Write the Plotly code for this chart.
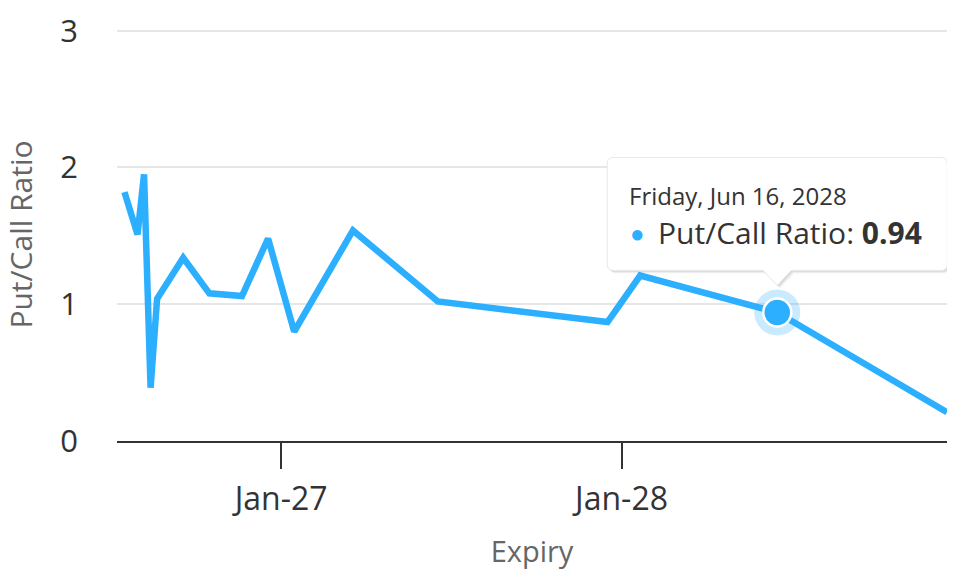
import plotly.graph_objects as go

# Expiry dates and put/call ratios
expiry = ['2026-07-17', '2026-07-31', '2026-08-07', '2026-08-14', '2026-08-21',
          '2026-09-18', '2026-10-16', '2026-11-20', '2026-12-18', '2027-01-15',
          '2027-03-19', '2027-06-18', '2027-12-17', '2028-01-21', '2028-06-16',
          '2028-12-15']
put_call = [1.82, 1.51, 1.95, 0.39, 1.04, 1.34, 1.08, 1.06, 1.48, 0.80,
            1.54, 1.02, 0.87, 1.21, 0.94, 0.21]

hover_idx = 14
hover_date = 'Friday, Jun 16, 2028'

line_color = '#2caffe'
font = 'Open Sans'

fig = go.Figure()

fig.add_trace(go.Scatter(
    x=expiry, y=put_call,
    mode='lines',
    line=dict(color=line_color, width=6.5),
    hoverinfo='skip',
    cliponaxis=False
))

# halo + highlighted point
fig.add_trace(go.Scatter(
    x=[expiry[hover_idx]], y=[put_call[hover_idx]],
    mode='markers',
    marker=dict(size=46, color=line_color, opacity=0.25),
    hoverinfo='skip', cliponaxis=False
))
fig.add_trace(go.Scatter(
    x=[expiry[hover_idx]], y=[put_call[hover_idx]],
    mode='markers',
    marker=dict(size=28, color=line_color, line=dict(color='white', width=2.5)),
    hoverinfo='skip', cliponaxis=False
))


def callout(dx=0, dy=0):
    # rounded box above the point with a pointer down to it (pixels, y up)
    L, R, T, B, r = -170 + dx, 170 + dx, 155 + dy, 42 + dy, 6
    return (f'M {L + r},{T} L {R - r},{T} Q {R},{T} {R},{T - r} '
            f'L {R},{B + r} Q {R},{B} {R - r},{B} '
            f'L {14 + dx},{B} L {dx},{27 + dy} L {-14 + dx},{B} '
            f'L {L + r},{B} Q {L},{B} {L},{B + r} '
            f'L {L},{T - r} Q {L},{T} {L + r},{T} Z')


shapes = []
for k, a in [(3, 0.04), (2, 0.06), (1, 0.08)]:
    shapes.append(dict(
        type='path', xref='x', yref='y', xsizemode='pixel', ysizemode='pixel',
        xanchor=expiry[hover_idx], yanchor=put_call[hover_idx],
        path=callout(k, -k), fillcolor=f'rgba(0,0,0,{a})',
        line=dict(width=0), layer='above'
    ))
shapes.append(dict(
    type='path', xref='x', yref='y', xsizemode='pixel', ysizemode='pixel',
    xanchor=expiry[hover_idx], yanchor=put_call[hover_idx],
    path=callout(), fillcolor='white',
    line=dict(color='#e8e8e8', width=1), layer='above'
))

annotations = [
    dict(x=expiry[hover_idx], y=put_call[hover_idx], xref='x', yref='y',
         text=hover_date, showarrow=False, xanchor='left', yanchor='middle',
         xshift=-150, yshift=117, font=dict(family=font, size=24, color='#333333')),
    dict(x=expiry[hover_idx], y=put_call[hover_idx], xref='x', yref='y',
         text=f'<span style="color:{line_color}">●</span>',
         showarrow=False, xanchor='left', yanchor='middle',
         xshift=-149, yshift=80, font=dict(family=font, size=24)),
    dict(x=expiry[hover_idx], y=put_call[hover_idx], xref='x', yref='y',
         text=f'Put/Call Ratio: <b>{put_call[hover_idx]:.2f}</b>',
         showarrow=False, xanchor='left', yanchor='middle',
         xshift=-121, yshift=80, font=dict(family=font, size=30, color='#333333')),
]

fig.update_layout(
    width=978, height=574,
    margin=dict(l=117, r=31, t=28, b=133),
    paper_bgcolor='white', plot_bgcolor='white',
    showlegend=False,
    hovermode=False,
    font=dict(family=font, color='#333333'),
    shapes=shapes,
    annotations=annotations,
    xaxis=dict(
        range=['2026-07-09', '2028-12-15'],
        tick0='2027-01-01', dtick='M12', tickformat='%b-%y',
        ticks='outside', ticklen=26, tickwidth=2, tickcolor='#333333',
        showline=True, linecolor='#333333', linewidth=2,
        showgrid=False, zeroline=False, automargin=False,
        ticklabelstandoff=3,
        tickfont=dict(size=32, color='#333333'),
        title=dict(text='Expiry', font=dict(size=29, color='#666666'), standoff=23),
    ),
    yaxis=dict(
        range=[0, 3.02], tickvals=[0, 1, 2, 3],
        showgrid=True, gridcolor='#e6e6e6', gridwidth=2,
        zeroline=False, showline=False, ticks='', automargin=False,
        ticklabelstandoff=38,
        tickfont=dict(size=31, color='#333333'),
        title=dict(text='Put/Call Ratio', font=dict(size=30, color='#666666'), standoff=22),
    ),
)

# page margin off so the figure sits at the window's top-left corner
fig.write_html('out.html', config={'displayModeBar': False},
               post_script="document.body.style.margin = '0';")
